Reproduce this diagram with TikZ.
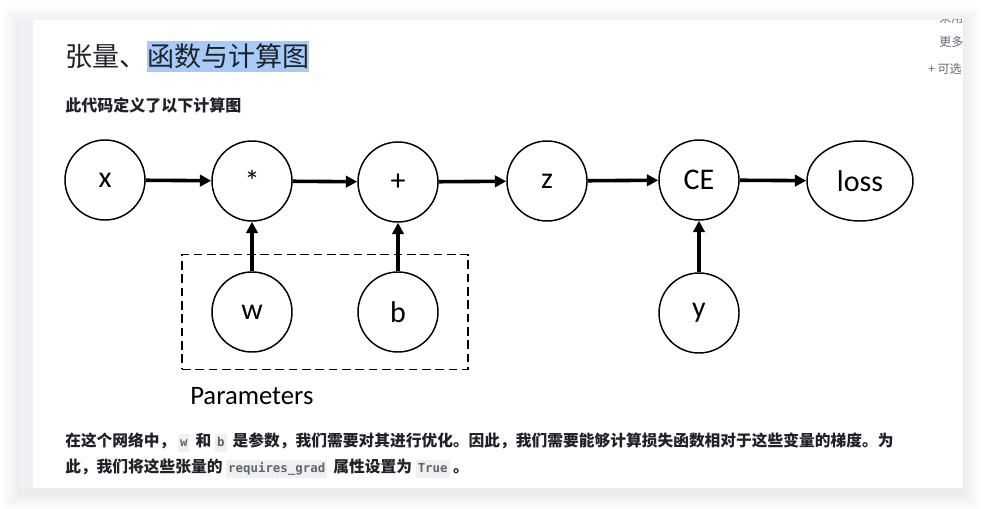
\documentclass[tikz,border=0pt]{standalone}
\usepackage{fontspec}
\setmainfont{Carlito}
\newfontfamily\cjk{Noto Sans CJK SC}
\newfontfamily\codefont{DejaVu Sans Mono}
\usetikzlibrary{shapes.geometric, arrows.meta, positioning, fit}

\definecolor{inkdark}{HTML}{1F2329}
\definecolor{hlblue}{HTML}{A7CBF8}
\definecolor{sidestrip}{HTML}{EEF0F6}
\definecolor{codebg}{HTML}{EFF0F2}
\definecolor{codegray}{HTML}{5F656E}
\definecolor{sidegray}{HTML}{646A73}

\newcommand{\inlinecode}[1]{{\setlength{\fboxsep}{1.5pt}\colorbox{codebg}{\codefont\fontsize{9.3}{10.5}\selectfont\color{codegray}\strut#1}}}

\begin{document}
\begin{tikzpicture}[
    x=0.75pt, y=-0.75pt,
    var/.style={circle, draw=black, line width=1.1pt, minimum size=60pt, inner sep=0pt, font=\fontsize{22.5}{26}\selectfont},
    lossnode/.style={ellipse, draw=black, line width=1.1pt, minimum width=79.5pt, minimum height=60pt, inner sep=0pt, font=\fontsize{22.5}{26}\selectfont},
    flow/.style={line width=2.7pt, -{Triangle[length=8.5pt, width=8.5pt]}},
    bodytext/.style={anchor=base west, inner sep=0pt, text=inkdark, font=\cjk\bfseries\fontsize{11.8}{14}\selectfont},
    sidetext/.style={anchor=base west, inner sep=0pt, text=sidegray, font=\cjk\fontsize{9}{11}\selectfont}
]
    \useasboundingbox (0,0) rectangle (984,509);

    % Page shadow and panel
    \foreach \s in {1,...,18}
        \fill[black, opacity=0.0045] (20-\s, 24-\s) rectangle (963+\s, 493+\s);
    \fill[white] (20,20) rectangle (963,488);
    \fill[sidestrip] (20,20) rectangle (33,488);

    % Side menu, cut off by the panel edge
    \begin{scope}
        \clip (33,20) rectangle (963,488);
        \node[sidetext] (sidetop) at (939,22.5) {采用.};
        \node[sidetext] (sidemore) at (939,46.5) {更多};
        \node[sidetext] (sideopt) at (928,73.5) {+ 可选};
    \end{scope}

    % Heading
    \node[anchor=base west, inner sep=0pt, text=inkdark, font=\cjk\fontsize{20.3}{24}\selectfont] (titlea) at (65,67) {张量、};
    \node[anchor=base west, inner xsep=0pt, inner ysep=2.3pt, fill=hlblue, text=inkdark, font=\cjk\fontsize{20.3}{24}\selectfont] (titleb) at (titlea.base east) {函数与计算图};
    \node[anchor=base west, inner sep=0pt, text=inkdark, font=\cjk\bfseries\fontsize{12}{14}\selectfont] (subtitle) at (65,112) {此代码定义了以下计算图};

    % Graph
    \node[var] (x) at (105,180) {x};
    \node[var] (mul) at (252,181) {*};
    \node[var] (add) at (398,182) {+};
    \node[var] (z) at (547,181) {z};
    \node[var] (ce) at (699,180) {CE};
    \node[lossnode] (loss) at (860,181) {loss};
    \node[var] (w) at (252,312) {w};
    \node[var] (b) at (398,312) {b};
    \node[var] (y) at (699,313) {y};

    \draw[flow] (x) -- (mul);
    \draw[flow] (mul) -- (add);
    \draw[flow] (add) -- (z);
    \draw[flow] (z) -- (ce);
    \draw[flow] (ce) -- (loss);
    \draw[flow] (w) -- (mul);
    \draw[flow] (b) -- (add);
    \draw[flow] (y) -- (ce);

    % Parameter group
    \node[draw=black, line width=1.1pt, dash pattern=on 6.5pt off 3.5pt, fit=(w)(b), inner xsep=22pt, inner ysep=12.5pt] (params) {};
    \node[anchor=base west, inner sep=0pt, font=\fontsize{20}{24}\selectfont] (paramlabel) at (190,404) {Parameters};

    % Explanation
    \node[bodytext] (bodya) at (65,446) {在这个网络中，\,\inlinecode{w}\, 和 \inlinecode{b}\, 是参数，我们需要对其进行优化。因此，我们需要能够计算损失函数相对于这些变量的梯度。为};
    \node[bodytext] (bodyb) at (65,472) {此，我们将这些张量的 \inlinecode{requires\_grad}\, 属性设置为 \inlinecode{True} 。};
\end{tikzpicture}
\end{document}
